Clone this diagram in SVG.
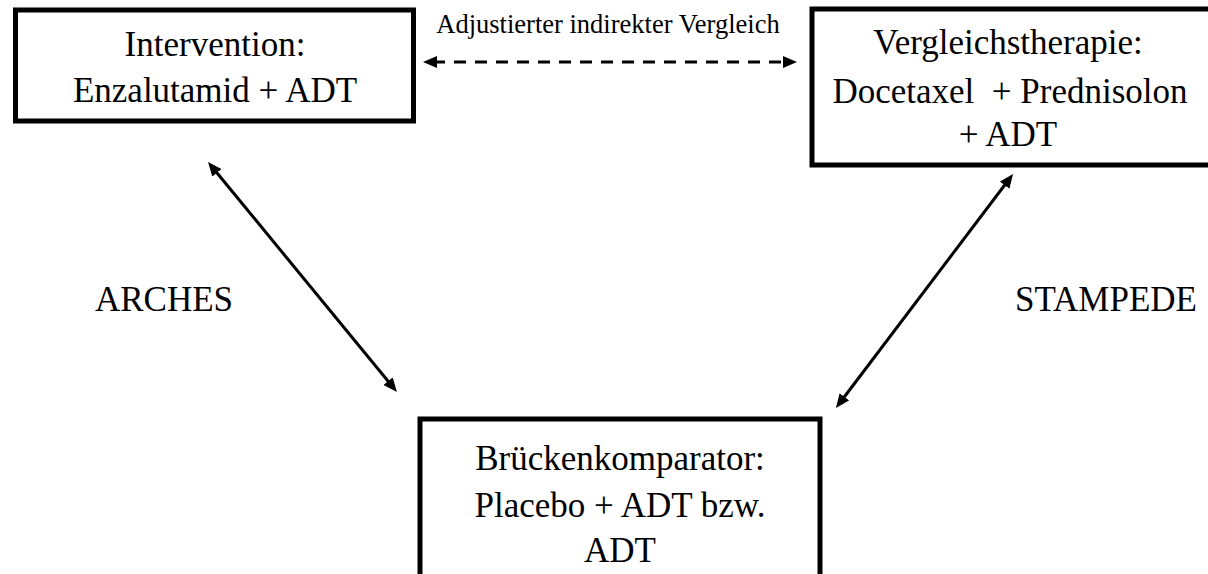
<svg xmlns="http://www.w3.org/2000/svg" width="1208" height="574" viewBox="0 0 1208 574">
<style>
.box{fill:#fff;stroke:#000;stroke-width:5}
.t{font-family:"Liberation Serif","Times New Roman",serif;font-size:35px;fill:#000;text-anchor:middle}
.s{font-family:"Liberation Serif","Times New Roman",serif;font-size:26.5px;fill:#000;text-anchor:middle}
.c{stroke:#000;stroke-width:3;fill:none}
.d{stroke-dasharray:12 9}
</style>
<defs>
<marker id="ah" markerUnits="userSpaceOnUse" markerWidth="14" markerHeight="12" viewBox="0 0 14 12" refX="4" refY="6" orient="auto-start-reverse">
<path d="M0,0 L14,6 L0,12 z" fill="#000"/>
</marker>
</defs>
<rect width="1208" height="574" fill="#fff"/>
<g id="connectors">
<line class="c d" x1="433" y1="62" x2="787" y2="62" marker-start="url(#ah)" marker-end="url(#ah)"/>
<line class="c" x1="214.4" y1="169.7" x2="390.6" y2="384.3" marker-start="url(#ah)" marker-end="url(#ah)"/>
<line class="c" x1="1007" y1="182" x2="842" y2="400" marker-start="url(#ah)" marker-end="url(#ah)"/>
</g>
<g id="label-vergleich"><text class="s" x="608" y="33">Adjustierter indirekter Vergleich</text></g>
<g id="label-arches"><text class="t" x="164" y="311">ARCHES</text></g>
<g id="label-stampede"><text class="t" x="1106" y="311">STAMPEDE</text></g>
<g id="intervention">
<rect class="box" x="15.5" y="10" width="398" height="111"/>
<text class="t" x="215" y="56">Intervention:</text>
<text class="t" x="215" y="102">Enzalutamid + ADT</text>
</g>
<g id="vergleichstherapie">
<rect class="box" x="812" y="9" width="410" height="156"/>
<text class="t" x="1008" y="54">Vergleichstherapie:</text>
<text class="t" x="1010" y="103" xml:space="preserve">Docetaxel  + Prednisolon</text>
<text class="t" x="1008" y="146">+ ADT</text>
</g>
<g id="brueckenkomparator">
<rect class="box" x="420" y="419" width="400" height="160"/>
<text class="t" x="620" y="470">Brückenkomparator:</text>
<text class="t" x="620" y="517">Placebo + ADT bzw.</text>
<text class="t" x="620" y="562">ADT</text>
</g>
</svg>
